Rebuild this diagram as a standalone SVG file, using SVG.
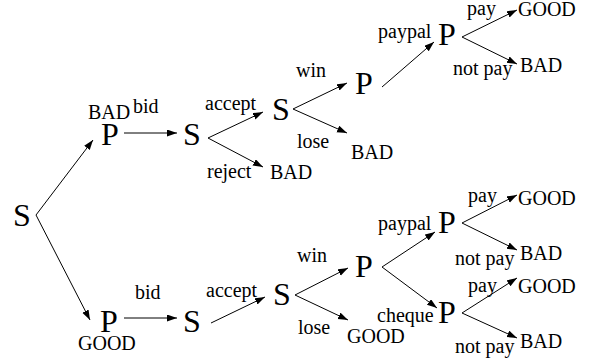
<svg xmlns="http://www.w3.org/2000/svg" width="594" height="360" viewBox="0 0 594 360">
<style>
text{font-family:"Times New Roman","Liberation Serif",Times,serif;fill:#000}
.big{font-size:32px}
.lbl{font-size:20px}
</style>
<defs>
<marker id="ah" markerUnits="userSpaceOnUse" markerWidth="11" markerHeight="8" refX="10" refY="3.5" orient="auto">
<path d="M0,0 L10,3.5 L0,7 z" fill="#000"/>
</marker>
</defs>
<rect width="594" height="360" fill="#fff"/>
<g id="connectors" stroke="#000" stroke-width="1" fill="none" marker-end="url(#ah)">
<line x1="36" y1="215" x2="93" y2="140"/>
<line x1="36" y1="215" x2="90" y2="320"/>
<line x1="124" y1="133" x2="177" y2="133"/>
<line x1="208" y1="138" x2="263" y2="112"/>
<line x1="208" y1="138" x2="263" y2="167"/>
<line x1="293" y1="109" x2="347" y2="83"/>
<line x1="293" y1="109" x2="347" y2="133"/>
<line x1="382" y1="87" x2="434" y2="42"/>
<line x1="462" y1="37" x2="517" y2="10"/>
<line x1="462" y1="37" x2="517" y2="64"/>
<line x1="124" y1="318" x2="177" y2="318"/>
<line x1="211" y1="323" x2="265" y2="297"/>
<line x1="295" y1="295" x2="348" y2="268"/>
<line x1="295" y1="295" x2="348" y2="320"/>
<line x1="382" y1="267" x2="435" y2="232"/>
<line x1="382" y1="267" x2="437" y2="308"/>
<line x1="462" y1="223" x2="517" y2="195"/>
<line x1="462" y1="223" x2="517" y2="250"/>
<line x1="462" y1="313" x2="517" y2="278"/>
<line x1="462" y1="313" x2="517" y2="338"/>
</g>
<g id="nodes">
<g id="s-root"><text class="big" x="13" y="226" font-family="Times New Roman, Liberation Serif, serif">S</text></g>
<g id="p-top"><text class="big" x="101" y="145" font-family="Times New Roman, Liberation Serif, serif">P</text></g>
<g id="s1-top"><text class="big" x="183" y="145" font-family="Times New Roman, Liberation Serif, serif">S</text></g>
<g id="s2-top"><text class="big" x="272" y="120" font-family="Times New Roman, Liberation Serif, serif">S</text></g>
<g id="p3-top"><text class="big" x="355" y="94" font-family="Times New Roman, Liberation Serif, serif">P</text></g>
<g id="p4-top"><text class="big" x="438" y="45" font-family="Times New Roman, Liberation Serif, serif">P</text></g>
<g id="p-bot"><text class="big" x="100" y="332" font-family="Times New Roman, Liberation Serif, serif">P</text></g>
<g id="s1-bot"><text class="big" x="183" y="332" font-family="Times New Roman, Liberation Serif, serif">S</text></g>
<g id="s2-bot"><text class="big" x="273" y="305" font-family="Times New Roman, Liberation Serif, serif">S</text></g>
<g id="p3-bot"><text class="big" x="355" y="277" font-family="Times New Roman, Liberation Serif, serif">P</text></g>
<g id="p4a-bot"><text class="big" x="438" y="233" font-family="Times New Roman, Liberation Serif, serif">P</text></g>
<g id="p4b-bot"><text class="big" x="438" y="323" font-family="Times New Roman, Liberation Serif, serif">P</text></g>
<g id="t-ptop-bad"><text class="lbl" x="88" y="119" font-family="Times New Roman, Liberation Serif, serif">BAD</text></g>
<g id="t-pbot-good"><text class="lbl" x="78" y="350" font-family="Times New Roman, Liberation Serif, serif">GOOD</text></g>
<g id="t-reject-bad"><text class="lbl" x="270" y="179" font-family="Times New Roman, Liberation Serif, serif">BAD</text></g>
<g id="t-lose-bad"><text class="lbl" x="351" y="159" font-family="Times New Roman, Liberation Serif, serif">BAD</text></g>
<g id="t-top-good"><text class="lbl" x="518" y="16" font-family="Times New Roman, Liberation Serif, serif">GOOD</text></g>
<g id="t-top-bad"><text class="lbl" x="520" y="72" font-family="Times New Roman, Liberation Serif, serif">BAD</text></g>
<g id="t-lose-good"><text class="lbl" x="347" y="343" font-family="Times New Roman, Liberation Serif, serif">GOOD</text></g>
<g id="t-pa-good"><text class="lbl" x="518" y="205" font-family="Times New Roman, Liberation Serif, serif">GOOD</text></g>
<g id="t-pa-bad"><text class="lbl" x="520" y="260" font-family="Times New Roman, Liberation Serif, serif">BAD</text></g>
<g id="t-pb-good"><text class="lbl" x="518" y="293" font-family="Times New Roman, Liberation Serif, serif">GOOD</text></g>
<g id="t-pb-bad"><text class="lbl" x="520" y="348" font-family="Times New Roman, Liberation Serif, serif">BAD</text></g>
</g>
<g id="edge-labels">
<text class="lbl" x="133" y="113" font-family="Times New Roman, Liberation Serif, serif">bid</text>
<text class="lbl" x="135" y="299" font-family="Times New Roman, Liberation Serif, serif">bid</text>
<text class="lbl" x="205" y="110" font-family="Times New Roman, Liberation Serif, serif">accept</text>
<text class="lbl" x="207" y="178" font-family="Times New Roman, Liberation Serif, serif">reject</text>
<text class="lbl" x="296" y="77" font-family="Times New Roman, Liberation Serif, serif">win</text>
<text class="lbl" x="297" y="148" font-family="Times New Roman, Liberation Serif, serif">lose</text>
<text class="lbl" x="378" y="38" font-family="Times New Roman, Liberation Serif, serif">paypal</text>
<text class="lbl" x="467" y="15" font-family="Times New Roman, Liberation Serif, serif">pay</text>
<text class="lbl" x="453" y="75" font-family="Times New Roman, Liberation Serif, serif">not pay</text>
<text class="lbl" x="206" y="297" font-family="Times New Roman, Liberation Serif, serif">accept</text>
<text class="lbl" x="297" y="262" font-family="Times New Roman, Liberation Serif, serif">win</text>
<text class="lbl" x="298" y="334" font-family="Times New Roman, Liberation Serif, serif">lose</text>
<text class="lbl" x="378" y="230" font-family="Times New Roman, Liberation Serif, serif">paypal</text>
<text class="lbl" x="468" y="202" font-family="Times New Roman, Liberation Serif, serif">pay</text>
<text class="lbl" x="455" y="265" font-family="Times New Roman, Liberation Serif, serif">not pay</text>
<text class="lbl" x="377" y="322" font-family="Times New Roman, Liberation Serif, serif">cheque</text>
<text class="lbl" x="468" y="292" font-family="Times New Roman, Liberation Serif, serif">pay</text>
<text class="lbl" x="455" y="353" font-family="Times New Roman, Liberation Serif, serif">not pay</text>
</g>
</svg>
